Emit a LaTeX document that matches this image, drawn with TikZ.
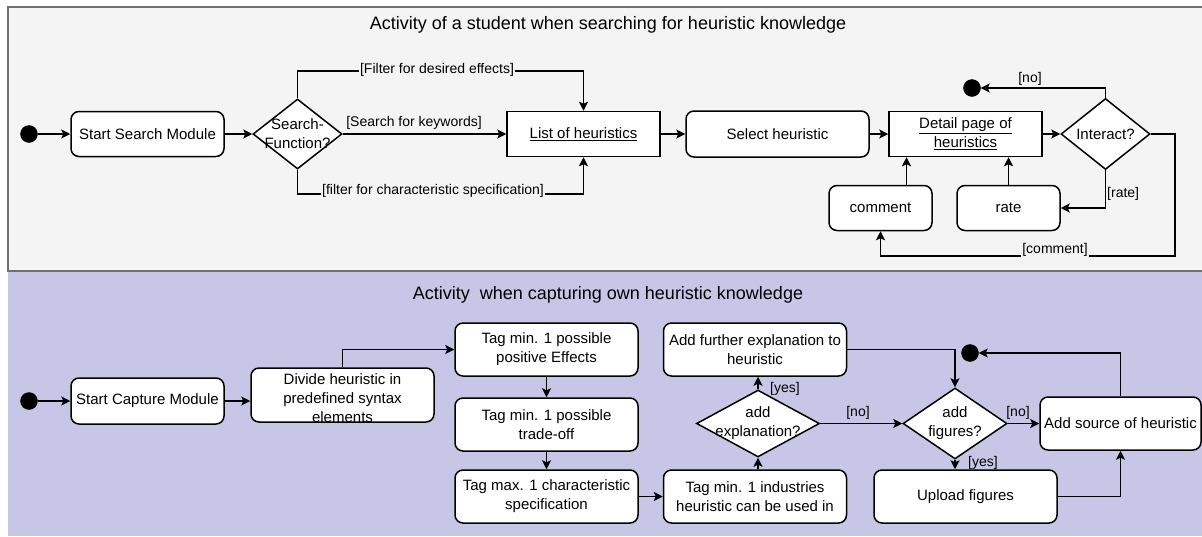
\documentclass[tikz,border=0pt]{standalone}
\usepackage{fontspec}
\setmainfont{Liberation Sans}
\usetikzlibrary{shapes.geometric,arrows.meta}
\definecolor{searchbg}{HTML}{F4F4F4}
\definecolor{capturebg}{HTML}{C8C6E6}
\definecolor{lanegray}{HTML}{707070}
\newcommand\titlefont{\fontsize{18}{22}\selectfont}
\newcommand\actfont{\fontsize{15}{19}\selectfont}
\newcommand\guardfont{\fontsize{14}{17}\selectfont}
\begin{document}
\begin{tikzpicture}[x=1pt,y=-1pt,
  act/.style={draw, rounded corners=8pt, fill=white, line width=1.5pt, align=center, font=\actfont, inner sep=0pt},
  page/.style={draw, fill=white, line width=1.5pt, align=center, font=\actfont, inner sep=0pt},
  choice/.style={draw, diamond, fill=white, line width=1.5pt, inner sep=0pt},
  choicetext/.style={font=\actfont, align=center, inner sep=0pt},
  dot/.style={circle, fill=black, draw=black, minimum size=17pt, inner sep=0pt},
  flow/.style={line width=1.5pt, -{Stealth[length=9pt,width=9pt,inset=2pt]}},
  guard/.style={font=\guardfont, inner sep=1pt}]
\useasboundingbox (0,0) rectangle (1202,536);

% swimlanes
\fill[searchbg] (8,7) rectangle (1202,271);
\fill[capturebg] (8,271) rectangle (1202,536);
\draw[lanegray, line width=1.5pt] (1202,7) -- (8,7) -- (8,271) -- (1202,271);

\node[font=\titlefont] (t1) at (608,25) {Activity of a student when searching for heuristic knowledge};
\node[font=\titlefont] (t2) at (608,295) {Activity\ \ when capturing own heuristic knowledge};

% ---- searching ----
\node[dot] (s1) at (29,134) {};
\node[act, minimum width=153pt, minimum height=45pt] (ssm) at (147.5,134) {Start Search Module};
\node[choice, minimum width=89pt, minimum height=70pt] (sf) at (297.5,134) {};
\node[choicetext] (sft) at (297.5,134) {Search-\\Function?};
\node[page, minimum width=153pt, minimum height=45pt] (list) at (583.5,134) {\underline{List of heuristics}};
\node[act, minimum width=183pt, minimum height=46pt] (sel) at (777.5,134) {Select heuristic};
\node[page, minimum width=153pt, minimum height=45pt] (detail) at (965.5,134) {\underline{Detail page of}\\\underline{heuristics}};
\node[choice, minimum width=89pt, minimum height=71pt] (inter) at (1105.5,134) {};
\node[choicetext] (intert) at (1105.5,134) {Interact?};
\node[dot] (e1) at (972,88) {};
\node[act, minimum width=103pt, minimum height=45pt] (com) at (880.5,208) {comment};
\node[act, minimum width=103pt, minimum height=45pt] (rate) at (1008.5,208) {rate};

\coordinate (ftop) at (297.5,71);
\coordinate (fbot) at (297.5,194);
\coordinate (loop) at (1175,256);

\draw[flow] (s1) -- (ssm);
\draw[flow] (ssm) -- (sf);
\draw[flow] (sf.north) -- (ftop) -| (list.north);
\draw[flow] (sf.east) -- (list.west);
\draw[flow] (sf.south) -- (fbot) -| (list.south);
\draw[flow] (list) -- (sel);
\draw[flow] (sel) -- (detail);
\draw[flow] (detail) -- (inter);
\draw[flow] (inter.north) |- (e1);
\draw[flow] (inter.south) |- (rate.east);
\draw[flow] (inter.east) -| (loop) -| (com.south);
\draw[flow] (rate.north) -- (rate.north |- detail.south);
\draw[flow] ([xshift=26pt]com.north) -- ([xshift=26pt]com.north |- detail.south);

\node[guard, fill=searchbg] (lfe) at (437,70) {[Filter for desired effects]};
\node[guard] (lkw) at (414,123) {[Search for keywords]};
\node[guard, fill=searchbg] (lcs) at (433,191) {[filter for characteristic specification]};
\node[guard] (lno1) at (1030,79) {[no]};
\node[guard, anchor=west] (lrate) at (1106,194) {[rate]};
\node[guard, fill=searchbg] (lcom) at (1055,250) {[comment]};

% ---- capturing ----
\node[dot] (s2) at (29,401) {};
\node[act, minimum width=153pt, minimum height=46pt] (scm) at (147.5,401) {Start Capture Module};
\node[act, minimum width=183pt, minimum height=54pt] (div) at (342.5,395) {};
\node[choicetext] (divt) at (342.5,398) {Divide heuristic in\\predefined syntax\\elements};
\node[act, minimum width=183pt, minimum height=53pt] (tag1) at (546.5,349.5) {Tag min. 1 possible\\positive Effects};
\node[act, minimum width=183pt, minimum height=53pt] (tag2) at (546.5,424.5) {Tag min. 1 possible\\trade-off};
\node[act, minimum width=183pt, minimum height=53pt] (tag3) at (546.5,496.5) {Tag max. 1 characteristic\\specification};
\node[act, minimum width=183pt, minimum height=53pt] (ind) at (755,496.5) {Tag min. 1 industries\\heuristic can be used in};
\node[act, minimum width=183pt, minimum height=53pt] (fur) at (755,349.5) {Add further explanation to\\heuristic};
\node[choice, minimum width=123pt, minimum height=67pt] (expl) at (758,423.5) {};
\node[choicetext] (explt) at (758,423.5) {add\\explanation?};
\node[choice, minimum width=104pt, minimum height=71pt] (fig) at (955,423.5) {};
\node[choicetext] (figt) at (955,423.5) {add\\figures?};
\node[dot] (e2) at (970,353) {};
\node[act, minimum width=161pt, minimum height=53pt] (src) at (1120.5,423.5) {Add source of heuristic};
\node[act, minimum width=183pt, minimum height=53pt] (upl) at (965.5,496.5) {Upload figures};

\draw[flow] (s2) -- (scm);
\draw[flow] (scm.east) -- (scm.east -| div.west);
\draw[flow] (div.north) |- (tag1.west);
\draw[flow] (tag1) -- (tag2);
\draw[flow] (tag2) -- (tag3);
\draw[flow] (tag3) -- (ind);
\draw[flow] (expl.south |- ind.north) -- (expl.south);
\draw[flow] (expl.north) -- (expl.north |- fur.south);
\draw[flow] (expl) -- (fig);
\draw[flow] (fur.east) -| (fig.north);
\draw[flow] (fig) -- (src);
\draw[flow] (fig.south) -- (fig.south |- upl.north);
\draw[flow] (upl.east) -| (src.south);
\draw[flow] (src.north) |- (e2);

\node[guard, anchor=west] (ly1) at (769,389) {[yes]};
\node[guard] (ln1) at (858,413) {[no]};
\node[guard] (ln2) at (1018,413) {[no]};
\node[guard, anchor=west] (ly2) at (967,463) {[yes]};
\end{tikzpicture}
\end{document}
